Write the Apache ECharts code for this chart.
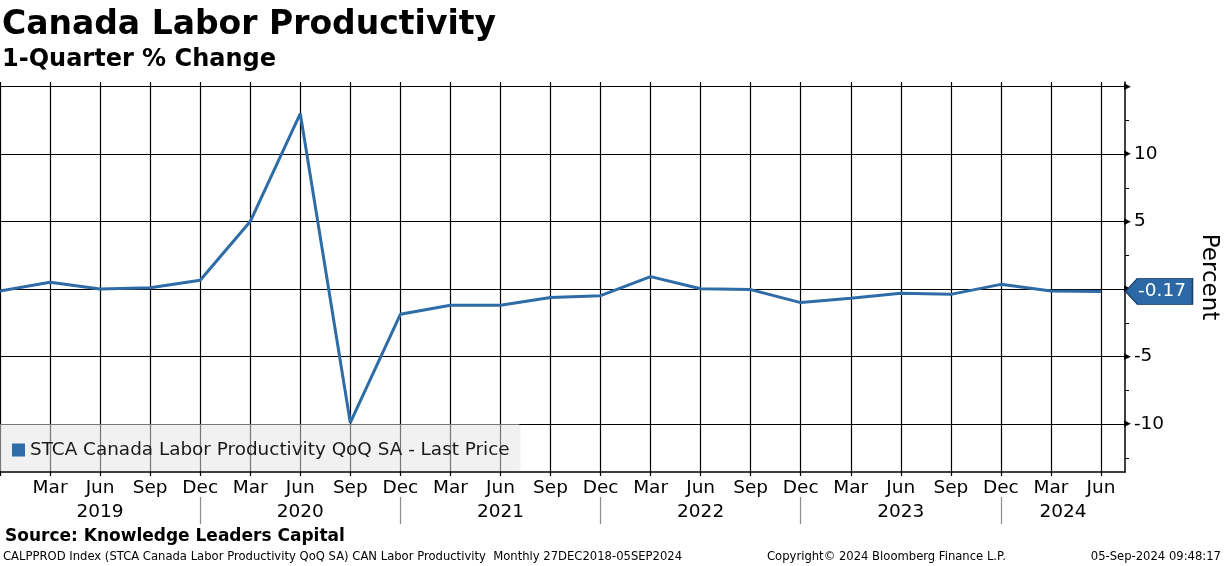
<!DOCTYPE html>
<html>
<head>
<meta charset="utf-8">
<script src="https://cdn.jsdelivr.net/npm/echarts@6/dist/echarts.min.js"></script>
<style>
html,body{margin:0;padding:0;background:#fff;}
#chart{width:1224px;height:566px;}
</style>
</head>
<body>
<div id="chart"></div>
<script>
// ---- data ----
const quarters = ['Dec 2018','Mar 2019','Jun 2019','Sep 2019','Dec 2019','Mar 2020','Jun 2020','Sep 2020','Dec 2020',
  'Mar 2021','Jun 2021','Sep 2021','Dec 2021','Mar 2022','Jun 2022','Sep 2022','Dec 2022',
  'Mar 2023','Jun 2023','Sep 2023','Dec 2023','Mar 2024','Jun 2024'];
const values = [-0.15, 0.5, 0.0, 0.1, 0.65, 5.0, 13.0, -9.9, -1.87, -1.2, -1.2, -0.63, -0.49, 0.92, 0.03, -0.04, -1.0, -0.68, -0.31, -0.39, 0.35, -0.14, -0.17];
const seriesName = 'STCA Canada Labor Productivity QoQ SA - Last Price';
const yearLabels = ['2019','2020','2021','2022','2023','2024'];
const yTickValues = [15, 10, 5, 0, -5, -10];
const yLabelValues = [10, 5, -5, -10];
const yMinorValues = [12.5, 7.5, 2.5, -2.5, -7.5, -12.5];

// ---- derived ----
const monthLabels = quarters.map(q => q.split(' ')[0]);
const xMin = 0, xMax = 22.48, yMin = -13.55, yMax = 15.34;
const xTickValues = quarters.map((q, i) => i);
const xLabelValues = xTickValues.slice(1);
const sepValues = quarters.map((q, i) => (i > 0 && monthLabels[i] === 'Dec') ? i : null).filter(v => v !== null);
const yearCenters = yearLabels.map(y => {
  const first = quarters.findIndex(q => q.endsWith(y));
  const start = Math.max(first - 1, xMin);
  const end = Math.min(first - 1 + 4, xMax);
  return (start + end) / 2;
});
const lineData = values.map((v, i) => [i, v]);
const last = values[values.length - 1];

const FONT = '"DejaVu Sans", Verdana, sans-serif';
const BLUE = '#2e6ca8';

const chart = echarts.init(document.getElementById('chart'), null, {renderer: 'canvas'});
chart.setOption({
  animation: false,
  backgroundColor: '#ffffff',
  grid: {left: 0, right: 99, top: 82, bottom: 94, containLabel: false, outerBoundsMode: 'none'},
  legend: {
    show: true,
    left: 0, top: 424,
    orient: 'horizontal',
    backgroundColor: 'rgba(229,229,229,0.52)',
    borderRadius: [0, 3, 3, 0],
    padding: [17, 11, 12, 12],
    itemWidth: 13, itemHeight: 13,
    icon: 'rect',
    textStyle: {fontFamily: FONT, fontSize: 18.4, color: '#1a1a1a'},
    data: [seriesName]
  },
  xAxis: [{
    type: 'value', min: xMin, max: xMax, position: 'bottom',
    axisLine: {show: true, onZero: false, lineStyle: {color: '#000', width: 1.5}},
    axisTick: {show: true, customValues: xTickValues, length: 4, lineStyle: {color: '#000', width: 1.2}},
    splitLine: {show: true, lineStyle: {color: '#000', width: 1.2}},
    axisLabel: {
      show: true, customValues: xLabelValues, margin: 7,
      formatter: v => monthLabels[Math.round(v)] || '',
      fontFamily: FONT, fontSize: 18.5, color: '#000'
    }
  }, {
    type: 'value', min: xMin, max: xMax, position: 'bottom', offset: 25,
    axisLine: {show: false, onZero: false},
    axisTick: {show: true, customValues: sepValues, length: 27, inside: false, lineStyle: {color: '#8c8c8c', width: 1.2}},
    splitLine: {show: false},
    axisLabel: {
      show: true, customValues: yearCenters, margin: 6,
      formatter: v => { const k = yearCenters.findIndex(c => Math.abs(c - v) < 1e-6); return k >= 0 ? yearLabels[k] : ''; },
      fontFamily: FONT, fontSize: 18.5, color: '#000'
    }
  }],
  yAxis: [{
    type: 'value', position: 'right', min: yMin, max: yMax,
    axisLine: {show: true, onZero: false, lineStyle: {color: '#000', width: 1.5}},
    axisTick: {show: true, customValues: yTickValues, length: 2, lineStyle: {color: '#000', width: 1.5}},
    splitLine: {show: true, lineStyle: {color: '#000', width: 1.2}},
    axisLabel: {
      show: true, customValues: yTickValues, margin: -1,
      formatter: v => (yLabelValues.indexOf(v) >= 0 ? '{t|\u25B6}' + v : '{t|\u25B6}'),
      rich: {t: {fontFamily: FONT, fontSize: 9, color: '#000', padding: [0, 3, 0, 0]}},
      fontFamily: FONT, fontSize: 18.5, color: '#000'
    },
    name: 'Percent', nameLocation: 'middle', nameRotate: -90, nameGap: 72,
    nameTextStyle: {fontFamily: FONT, fontSize: 23, color: '#000'}
  }, {
    type: 'value', position: 'right', offset: 0, min: yMin, max: yMax,
    axisLine: {show: false, onZero: false},
    axisTick: {show: true, customValues: yMinorValues, length: 4, lineStyle: {color: '#000', width: 1}},
    splitLine: {show: false},
    axisLabel: {show: false}
  }],
  series: [{
    name: seriesName,
    type: 'line',
    xAxisIndex: 0, yAxisIndex: 0,
    data: lineData,
    symbol: 'none',
    clip: false,
    lineStyle: {color: BLUE, width: 3},
    itemStyle: {color: BLUE},
    markPoint: {
      silent: true,
      symbol: 'path://M0,13 L12,0 L67,0 L67,26 L12,26 Z',
      symbolSize: [67, 26],
      symbolOffset: [34, 0],
      symbolKeepAspect: false,
      itemStyle: {color: '#2b68a5', borderColor: '#1b3f66', borderWidth: 1},
      label: {show: true, position: 'inside', offset: [3, 0], color: '#fff', fontFamily: FONT, fontSize: 18.5,
        formatter: () => last.toFixed(2)},
      data: [{coord: [xMax, last], value: last}]
    }
  }],
  graphic: [
    {type: 'text', x: 2, y: 25.5, style: {text: 'Canada Labor Productivity', font: 'bold 33px ' + FONT, fill: '#000', verticalAlign: 'middle'}},
    {type: 'text', x: 2, y: 59.5, style: {text: '1-Quarter % Change', font: 'bold 24px ' + FONT, fill: '#000', verticalAlign: 'middle'}},
    {type: 'text', x: 5, y: 537, style: {text: 'Source: Knowledge Leaders Capital', font: 'bold 17px ' + FONT, fill: '#000', verticalAlign: 'middle'}},
    {type: 'text', x: 3, y: 557, style: {text: 'CALPPROD Index (STCA Canada Labor Productivity QoQ SA) CAN Labor Productivity  Monthly 27DEC2018-05SEP2024', font: '11.6px ' + FONT, fill: '#000', verticalAlign: 'middle'}},
    {type: 'text', x: 767, y: 557, style: {text: 'Copyright\u00a9 2024 Bloomberg Finance L.P.', font: '11.6px ' + FONT, fill: '#000', verticalAlign: 'middle'}},
    {type: 'text', x: 1221, y: 557, style: {text: '05-Sep-2024 09:48:17', font: '11.6px ' + FONT, fill: '#000', align: 'right', verticalAlign: 'middle'}}
  ]
});
</script>
</body>
</html>
